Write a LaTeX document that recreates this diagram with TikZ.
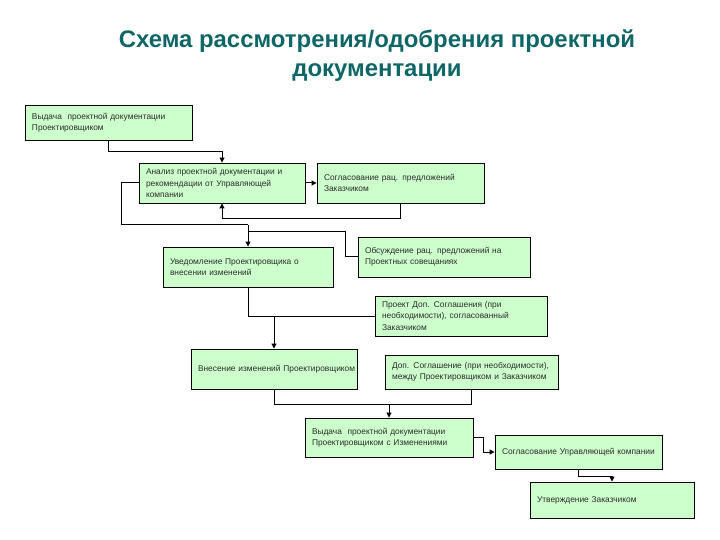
\documentclass[tikz,border=0pt]{standalone}
\usepackage{fontspec}
\setmainfont{Liberation Sans}
\usetikzlibrary{arrows.meta}
\definecolor{boxfill}{HTML}{CCFFCC}
\definecolor{titlecol}{HTML}{0E6666}
\definecolor{txt}{HTML}{2A2A2A}
\tikzset{
  box/.style={draw=black, line width=0.9bp, fill=boxfill, inner sep=0pt, align=left,
    text=txt, font=\fontsize{8.4}{11.5}\selectfont},
  conn/.style={draw=black, line width=1bp},
  arr/.style={conn, -{Triangle[length=5bp,width=5bp]}},
  titlestyle/.style={text=titlecol, align=center, font=\fontsize{24}{29}\selectfont\bfseries}
}
\newcommand{\bx}[7]{% name, cx, cy, w, h, text width, text
  \node[box, minimum width=#4bp, minimum height=#5bp, text width=#6bp] (#1) at (#2,#3) {#7};}
\begin{document}
\begin{tikzpicture}[x=1bp,y=-1bp]
\useasboundingbox (0,0) rectangle (720,540);
\node[titlestyle] (title) at (377,56) {Схема рассмотрения/одобрения проектной\\документации};

\bx{b1}{108.5}{122.5}{167}{35}{153}{Выдача~ проектной документации\\Проектировщиком}
\bx{b2}{222}{183}{166}{40}{152}{Анализ проектной документации и\\рекомендации от Управляющей\\компании}
\bx{b3}{400.5}{183}{167}{40}{153}{Согласование рац. предложений\\Заказчиком}
\bx{b4}{248}{267}{170}{40}{156}{Уведомление Проектировщика о\\внесении изменений}
\bx{b5}{444}{257}{172}{40}{158}{Обсуждение рац. предложений на\\Проектных совещаниях}
\bx{b6}{461}{316}{172}{40}{158}{Проект Доп. Соглашения (при\\необходимости), согласованный\\Заказчиком}
\bx{b7}{274}{369}{166}{40}{152}{Внесение~изменений~Проектировщиком}
\bx{b8}{471.5}{372}{173}{34}{159}{Доп. Соглашение (при~необходимости),\\между Проектировщиком и~Заказчиком}
\bx{b9}{389}{437.5}{168}{39}{154}{Выдача~ проектной документации\\Проектировщиком с Изменениями}
\bx{b10}{578.5}{452}{167}{34}{153}{Согласование~Управляющей~компании}
\bx{b11}{612}{500}{164}{36}{150}{Утверждение Заказчиком}

\coordinate (j1) at (248,225);
\coordinate (j2) at (248,232);
\coordinate (j3) at (274,316);
\coordinate (j4) at (389,404);

\draw[arr] (b1.south) -- ++(0,11) -| (b2.north);
\draw[arr] (b2.east) -- (b3.west);
\draw[arr] (b3.south) -- ++(0,15) -| (b2.south);
\draw[conn] (b2.west) -- ++(-17,0) |- (j1);
\draw[arr] (j1) -- (b4.north);
\draw[conn] (b5.west) -- ++(-12,0) |- (j2);
\draw[conn] (b4.south) |- (b6.west);
\draw[arr] (j3) -- (b7.north);
\draw[conn] (b7.south) -- ++(0,15) -| (b8.south);
\draw[arr] (j4) -- (b9.north);
\draw[arr] (b9.east) -- ++(10,0) |- (b10.west);
\draw[arr] (b10.south) -- ++(0,7) -| (b11.north);
\end{tikzpicture}
\end{document}
